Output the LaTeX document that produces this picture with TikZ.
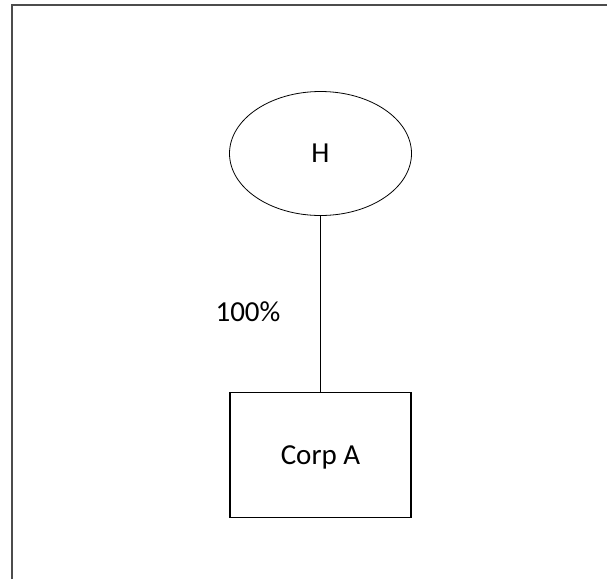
\documentclass[tikz,border=0pt]{standalone}
\usepackage{fontspec}
\setmainfont{Carlito}
\usepackage{tikz}
\usetikzlibrary{shapes}
\tikzset{%
  every entity/.style={
    draw,
    line width=0.8pt,
    inner sep=0pt,
    font=\fontsize{29}{35}\selectfont
  },
  owner/.style={
    every entity,
    ellipse,
    minimum width=182pt,
    minimum height=124pt
  },
  corp/.style={
    every entity,
    rectangle,
    line width=1.1pt,
    text depth=0pt,
    minimum width=181pt,
    minimum height=125pt
  },
}

\begin{document}
\begin{tikzpicture}[x=1pt,y=1pt]
  \useasboundingbox (0,0) rectangle (607,-579);
  \draw [line width=2pt,black!70] (12,-579)--(12,-5)--(607,-5);

  \node (h) [owner] at (320.5,-153.5) {H};
  \node (a) [corp] at (320.5,-454.7) {Corp A};
  \node (pct) [font=\fontsize{29}{35}\selectfont] at (248,-312) {100\%};

  \draw [line width=1.3pt] (h)--(a);
\end{tikzpicture}
\end{document}
